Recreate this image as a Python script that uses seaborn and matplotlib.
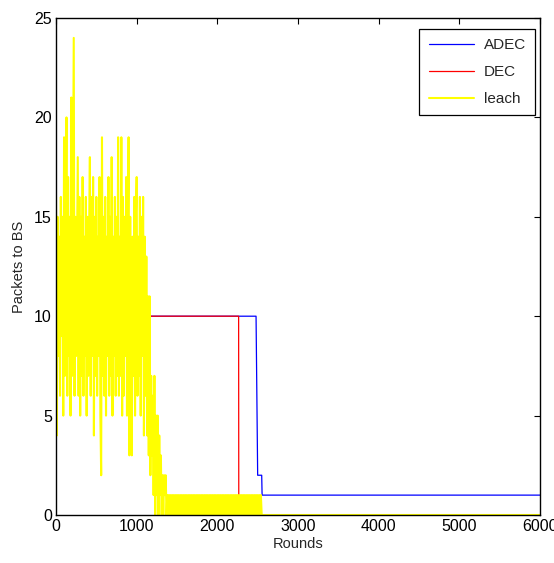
import matplotlib
matplotlib.use("Agg")
import matplotlib.pyplot as plt
import seaborn as sns
import pandas as pd

# ---- data ----
adec_rounds = [0, 2480, 2500, 2550, 2555, 6000]
adec_values = [10, 10, 2, 2, 1, 1]

dec_rounds = [0, 2264, 2266, 6000]
dec_values = [10, 10, 0, 0]

# leach: sampled every 10 rounds from 0 to 2540, then zeros
leach_noisy = [
    16, 4, 15, 8, 14, 6, 16, 9, 15, 5,
    19, 7, 14, 20, 6, 17, 8, 15, 5, 21,
    7, 16, 24, 6, 15, 8, 13, 18, 6, 16,
    5, 15, 7, 17, 6, 14, 8, 16, 5, 15,
    7, 14, 18, 6, 16, 8, 17, 4, 15, 7,
    16, 6, 14, 8, 17, 5, 2, 19, 7, 15,
    6, 16, 5, 14, 8, 17, 6, 15, 7, 18,
    5, 14, 8, 16, 6, 15, 7, 19, 6, 14,
    7, 19, 5, 16, 6, 15, 8, 17, 5, 14,
    19, 3, 15, 6, 3, 14, 7, 16, 5, 15,
    17, 6, 14, 7, 16, 5, 15, 8, 16, 4,
    14, 6, 13, 4, 11, 3, 11, 2, 7, 3,
    6, 1, 7, 0, 5, 1, 5, 0, 4, 1,
    3, 0, 2, 0, 2, 1, 2, 0, 1,
]
leach_tail = [
    0, 1, 0, 1, 0, 1, 0, 1, 0, 1, 0, 1, 0, 1, 0, 1, 0, 1, 0, 1,
    0, 1, 0, 1, 0, 1, 0, 1, 0, 1, 0, 1, 0, 1, 0, 1, 0, 1, 0, 1,
    0, 1, 0, 1, 0, 1, 0, 1, 0, 1, 0, 1, 0, 1, 0, 1, 0, 1, 0, 1,
    0, 1, 0, 1, 0, 1, 0, 1, 0, 1, 0, 1, 0, 1, 0, 1, 0, 1, 0, 1,
    0, 1, 0, 1, 0, 1, 0, 1, 0, 1, 0, 1, 0, 1, 0, 1, 0, 1, 0, 1,
    0, 1, 0, 1, 0, 1, 0, 1, 0, 1, 0, 1, 0, 1, 0, 1,
]
leach_values = leach_noisy + leach_tail + [0, 0]
leach_rounds = [10 * i for i in range(len(leach_noisy) + len(leach_tail))] + [2550, 6000]

series_names = ["ADEC", "DEC", "leach"]
series_colors = ["#0000ff", "#ff0000", "#ffff00"]

x_ticks = [0, 1000, 2000, 3000, 4000, 5000, 6000]
y_ticks = [0, 5, 10, 15, 20, 25]

# ---- plotting ----
sns.set_style("white")
plt.rcParams["font.family"] = ["Liberation Sans", "DejaVu Sans"]

fig = plt.figure(figsize=(5.54, 5.63), dpi=100)
ax = fig.add_axes([56 / 554, 48 / 563, 484 / 554, 497 / 563])

frames = [
    pd.DataFrame({"Rounds": adec_rounds, "Packets": adec_values}),
    pd.DataFrame({"Rounds": dec_rounds, "Packets": dec_values}),
    pd.DataFrame({"Rounds": leach_rounds, "Packets": leach_values}),
]
widths = [0.9, 0.9, 1.5]
for df, name, col, lw in zip(frames, series_names, series_colors, widths):
    sns.lineplot(data=df, x="Rounds", y="Packets", ax=ax, color=col, lw=lw,
                 label=name, estimator=None, sort=False)

ax.set_xlim(0, 6000)
ax.set_ylim(0, 25)
ax.set_xticks(x_ticks)
ax.set_yticks(y_ticks)
ax.tick_params(direction="in", top=True, right=True, length=4, width=0.8,
               labelsize=11.5, colors="black", pad=3)
for s in ax.spines.values():
    s.set_color("black")
    s.set_linewidth(1.0)
ax.set_xlabel("Rounds", fontsize=10.5, labelpad=2)
ax.set_ylabel("Packets to BS", fontsize=10.5, labelpad=6)

leg = ax.legend(loc="upper right", bbox_to_anchor=(0.9897, 0.978),
                borderaxespad=0, fontsize=11, handlelength=3.0,
                labelspacing=0.85, frameon=True, fancybox=False,
                edgecolor="black", framealpha=1, borderpad=0.6,
                handletextpad=0.6)
leg.get_frame().set_linewidth(0.9)

fig.savefig("out.png", dpi=100)
